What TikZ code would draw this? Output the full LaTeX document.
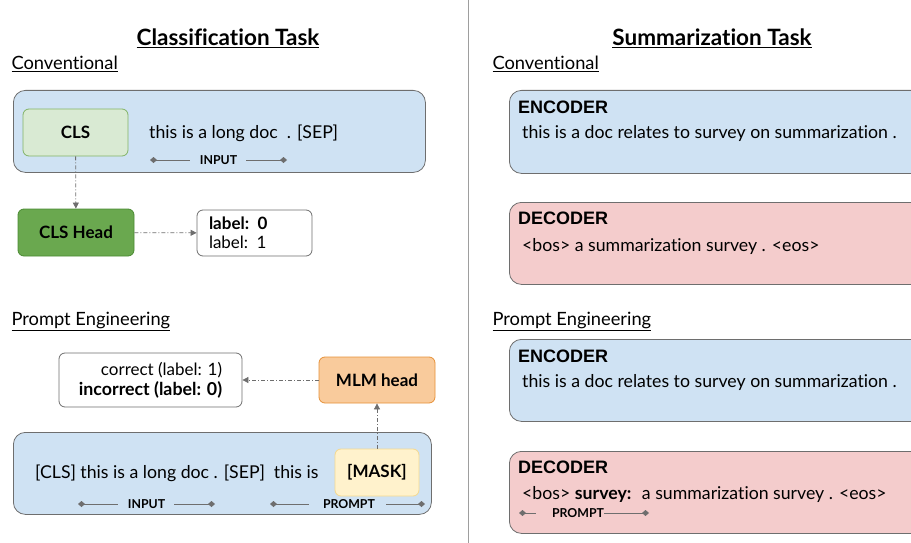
\documentclass[tikz,border=0pt]{standalone}
\usepackage{fontspec}
\setmainfont{Lato}[Ligatures=NoCommon]
\newfontfamily\arialfont{Liberation Sans}
\usetikzlibrary{arrows.meta, positioning}
\definecolor{panelblue}{HTML}{CFE2F3}
\definecolor{panelred}{HTML}{F4CCCC}
\definecolor{edgegray}{HTML}{6E6E6E}
\definecolor{clsfill}{HTML}{D9EAD3}
\definecolor{clsedge}{HTML}{82B366}
\definecolor{headfill}{HTML}{6AA84F}
\definecolor{headedge}{HTML}{4A8A32}
\definecolor{mlmfill}{HTML}{F9CB9C}
\definecolor{mlmedge}{HTML}{E69138}
\definecolor{maskfill}{HTML}{FFF2CC}
\definecolor{maskedge}{HTML}{F5D98E}
\definecolor{rulegray}{HTML}{9E9E9E}

\begin{document}
\begin{tikzpicture}[x=1pt, y=-1pt,
    panel/.style={draw=edgegray, line width=0.8pt, rounded corners=12pt, anchor=north west, inner sep=0pt},
    smallbox/.style={draw, line width=0.8pt, rounded corners=6pt, font=\fontsize{17}{20}\selectfont\bfseries},
    title/.style={font=\fontsize{22.5}{26}\selectfont\bfseries},
    section/.style={anchor=west, font=\fontsize{18.3}{21}\selectfont},
    body/.style={anchor=west, inner sep=0pt, font=\fontsize{17.7}{20}\selectfont},
    coder/.style={anchor=west, inner sep=0pt, font=\arialfont\fontsize{18}{21}\selectfont\bfseries},
    tag/.style={inner sep=0pt, font=\fontsize{12.3}{14}\selectfont\bfseries},
    flow/.style={draw=edgegray, line width=0.8pt, dash pattern=on 4pt off 2pt on 1pt off 2pt, -{Triangle[length=6pt,width=6pt]}},
    span/.style={draw=edgegray, line width=0.8pt},
    tip/.style={{Diamond[length=7pt,width=6pt]}-}
  ]
  \useasboundingbox (0,0) rectangle (911,543);
  \clip (0,0) rectangle (911,543);

  % --- Divider ---
  \coordinate (DivTop) at (468,0);
  \coordinate (DivBot) at (468,543);
  \draw[rulegray, line width=0.8pt] (DivTop) -- (DivBot);

  % --- Headings ---
  \node[title] (clstitle) at (228,38) {\underline{Classification Task}};
  \node[title] (sumtitle) at (712,38) {\underline{Summarization Task}};
  \node[section] (clsconv) at (8,64) {\underline{Conventional}};
  \node[section] (sumconv) at (489,64) {\underline{Conventional}};
  \node[section] (clspe) at (8,321) {\underline{Prompt Engineering}};
  \node[section] (sumpe) at (489,321) {\underline{Prompt Engineering}};

  % --- Classification: conventional ---
  \node[panel, fill=panelblue, minimum width=412, minimum height=82] (convpanel) at (13,90) {};
  \node[smallbox, draw=clsedge, fill=clsfill, minimum width=105, minimum height=47] (cls) at (75.5,132.5) {CLS};
  \node[body] (convtext) at (149,133) {this is a long doc \ . [SEP]};
  \node[tag] (convinput) at (218.5,160) {INPUT};
  \coordinate (ConvInL) at (150,160);
  \coordinate (ConvInR) at (287,160);
  \draw[span, tip] (ConvInL) -- ([xshift=-10pt]convinput.west);
  \draw[span, tip] (ConvInR) -- ([xshift=9pt]convinput.east);

  \node[smallbox, draw=headedge, fill=headfill, minimum width=116, minimum height=47] (clshead) at (76,232.5) {CLS Head};
  \node[smallbox, draw=edgegray, fill=white, minimum height=46, inner xsep=12pt, text width=91pt, font=\fontsize{17}{19}\selectfont, align=left] (labels) at (254.5,233) {\textbf{label: 0}\\label: 1};
  \draw[flow] (cls) -- (clshead);
  \draw[flow] (clshead) -- (labels);

  % --- Classification: prompt engineering ---
  \node[panel, fill=panelblue, minimum width=418, minimum height=82] (promptpanel) at (13,432) {};
  \node[body] (prompttext) at (35,473) {[CLS] this is a long doc . [SEP] \ this is};
  \node[smallbox, draw=maskedge, fill=maskfill, minimum width=84, minimum height=47] (mask) at (377,472.5) {[MASK]};
  \node[smallbox, draw=mlmedge, fill=mlmfill, minimum width=116, minimum height=46] (mlm) at (377,380) {MLM head};
  \node[smallbox, draw=edgegray, fill=white, minimum width=183, minimum height=54, font=\fontsize{17}{20}\selectfont, align=right] (answer) at (150.5,380) {correct (label: 1)\\\textbf{\fontsize{17.8}{20}\selectfont incorrect (label: 0)}};
  \draw[flow] (mask) -- (mlm);
  \draw[flow] (mlm) -- (answer);

  \node[tag] (promptinput) at (146.5,504) {INPUT};
  \coordinate (PrInL) at (78,504);
  \coordinate (PrInR) at (215,504);
  \draw[span, tip] (PrInL) -- ([xshift=-10pt]promptinput.west);
  \draw[span, tip] (PrInR) -- ([xshift=9pt]promptinput.east);
  \node[tag] (promptmark) at (349,504) {PROMPT};
  \coordinate (PrPmL) at (270,504);
  \coordinate (PrPmR) at (425,504);
  \draw[span, tip] (PrPmL) -- ([xshift=-14pt]promptmark.west);
  \draw[span, tip] (PrPmR) -- ([xshift=11pt]promptmark.east);

  % --- Summarization: conventional ---
  \node[panel, fill=panelblue, minimum width=416, minimum height=83] (encpanel) at (509,90) {};
  \node[coder] (enclabel) at (518,107) {ENCODER};
  \node[body] (enctext) at (522,133) {this is a doc relates to survey on summarization .};
  \node[panel, fill=panelred, minimum width=416, minimum height=82] (decpanel) at (509,202) {};
  \node[coder] (declabel) at (518,218) {DECODER};
  \node[body] (dectext) at (522,246) {<bos> a summarization survey . <eos>};

  % --- Summarization: prompt engineering ---
  \node[panel, fill=panelblue, minimum width=416, minimum height=82] (pencpanel) at (509,339) {};
  \node[coder] (penclabel) at (518,356) {ENCODER};
  \node[body] (penctext) at (522,382) {this is a doc relates to survey on summarization .};
  \node[panel, fill=panelred, minimum width=416, minimum height=82] (pdecpanel) at (509,451) {};
  \node[coder] (pdeclabel) at (518,467) {DECODER};
  \node[body] (pdectext) at (522,494) {<bos> \textbf{survey:} \ a summarization survey . <eos>};
  \node[tag] (decprompt) at (578,513) {PROMPT};
  \coordinate (DecPmL) at (519,513);
  \coordinate (DecPmR) at (649,513);
  \draw[span, tip] (DecPmL) -- ([xshift=-16pt]decprompt.west);
  \draw[span, tip] (DecPmR) -- (decprompt.east);
\end{tikzpicture}
\end{document}
